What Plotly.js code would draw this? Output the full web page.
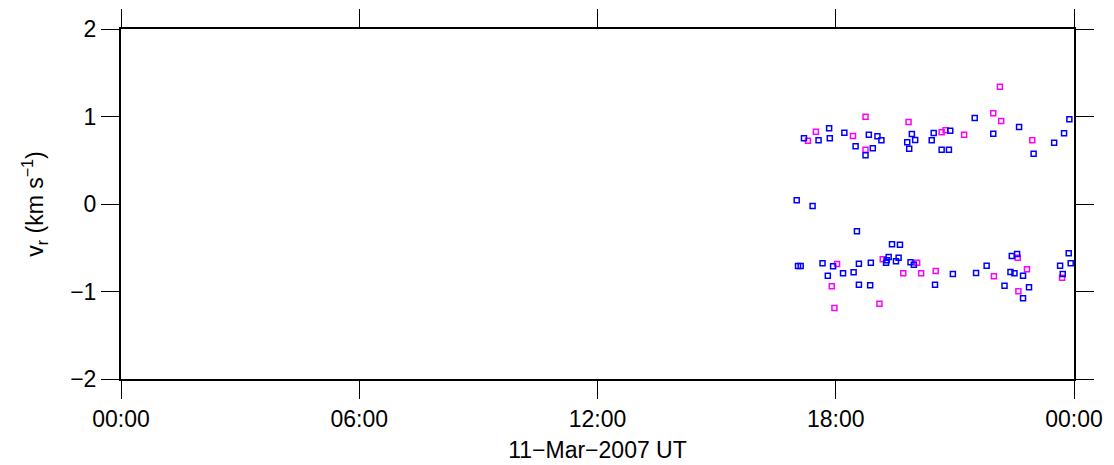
<!DOCTYPE html>
<html><head><meta charset="utf-8">
<script src="https://cdn.plot.ly/plotly-3.0.1.min.js"></script>
<style>body{margin:0;padding:0;background:#fff}#chart{width:1114px;height:465px}</style>
</head><body><div id="chart"></div>
<script>
const day = '2007-03-11 ';
// Blue series (times HH:MM, values km/s)
const blueTimes = ['17:12','17:34','17:50','17:51','18:13','18:30','18:45','18:50','18:56','19:03','19:09','19:48','19:51','19:55','20:00','20:25','20:28','20:40','20:51','20:53','21:30','21:58','22:37','22:59','23:30','23:45','23:53',
  '17:01','17:25',
  '18:32','19:25','19:37','17:03','17:07','17:40','17:56','17:48','18:11','18:27','18:35','18:35','18:53','18:52','19:16','19:17','19:20','19:31','19:35','19:53','19:58','20:30','20:57','21:32','21:48','22:15','22:26','22:34','22:24','22:30','22:43','22:52','22:43','23:52','23:39','23:55','23:43'];
const blueValues = [0.751,0.728,0.865,0.751,0.815,0.659,0.557,0.792,0.637,0.774,0.728,0.705,0.632,0.800,0.731,0.728,0.811,0.621,0.621,0.838,0.983,0.803,0.880,0.575,0.701,0.808,0.968,
  0.042,-0.023,
  -0.312,-0.461,-0.465,-0.709,-0.709,-0.678,-0.712,-0.819,-0.792,-0.781,-0.682,-0.922,-0.671,-0.929,-0.671,-0.643,-0.606,-0.655,-0.614,-0.666,-0.694,-0.922,-0.800,-0.789,-0.705,-0.933,-0.594,-0.571,-0.777,-0.792,-0.819,-0.952,-1.078,-0.563,-0.705,-0.678,-0.800];
// Magenta series
const magentaTimes = ['17:18','17:30','18:26','18:45','18:45','19:50','20:40','20:46','21:14','21:58','22:08','22:10','22:57',
  '18:02','17:54','17:58','19:06','19:11','19:42','20:03','20:09','20:31','21:59','22:35','22:49','22:36','23:42'];
const magentaValues = [0.723,0.826,0.777,0.998,0.621,0.937,0.819,0.842,0.792,1.037,1.341,0.949,0.728,
  -0.686,-0.941,-1.189,-1.139,-0.632,-0.792,-0.671,-0.792,-0.766,-0.826,-0.614,-0.746,-0.998,-0.842];
const xTickVals = ['2007-03-11 00:00','2007-03-11 06:00','2007-03-11 12:00','2007-03-11 18:00','2007-03-12 00:00'];
const xTickText = ['00:00','06:00','12:00','18:00','00:00'];
const yTickVals = [-2,-1,0,1,2];

const mk = (c) => ({symbol:'square-open', size:5, color:c, line:{width:1.5, color:c}});
const traces = [
  {x: magentaTimes.map(t=>day+t), y: magentaValues, mode:'markers', type:'scatter', marker: mk('#ff00ff'), showlegend:false},
  {x: blueTimes.map(t=>day+t), y: blueValues, mode:'markers', type:'scatter', marker: mk('#0000ff'), showlegend:false}
];
const font = {family:'Liberation Sans, Arial, Helvetica, sans-serif', size:24, color:'#000'};
const layout = {
  width:1114, height:465,
  margin:{l:121, r:40, t:29, b:86},
  paper_bgcolor:'#fff', plot_bgcolor:'#fff',
  font: font,
  xaxis:{type:'date', range:['2007-03-11 00:00','2007-03-12 00:00'], tickvals:xTickVals, ticktext:xTickText,
    ticks:'outside', ticklen:18, tickwidth:1, tickcolor:'#000', showline:true, linewidth:2, linecolor:'#000', mirror:'ticks',
    showgrid:false, zeroline:false, tickfont:{size:23},
    title:{text:'11−Mar−2007 UT', font:{size:23}, standoff:11}},
  yaxis:{range:[-2,2], tickvals:yTickVals, ticks:'outside', ticklen:18, tickwidth:1, tickcolor:'#000',
    showline:true, linewidth:2, linecolor:'#000', mirror:'ticks', showgrid:false, zeroline:false, tickfont:{size:23},
    title:{text:'v<sub>r</sub> (km s<sup>−1</sup>)', font:{size:23}, standoff:20}}
};
Plotly.newPlot('chart', traces, layout, {displayModeBar:false, staticPlot:true});
</script></body></html>
